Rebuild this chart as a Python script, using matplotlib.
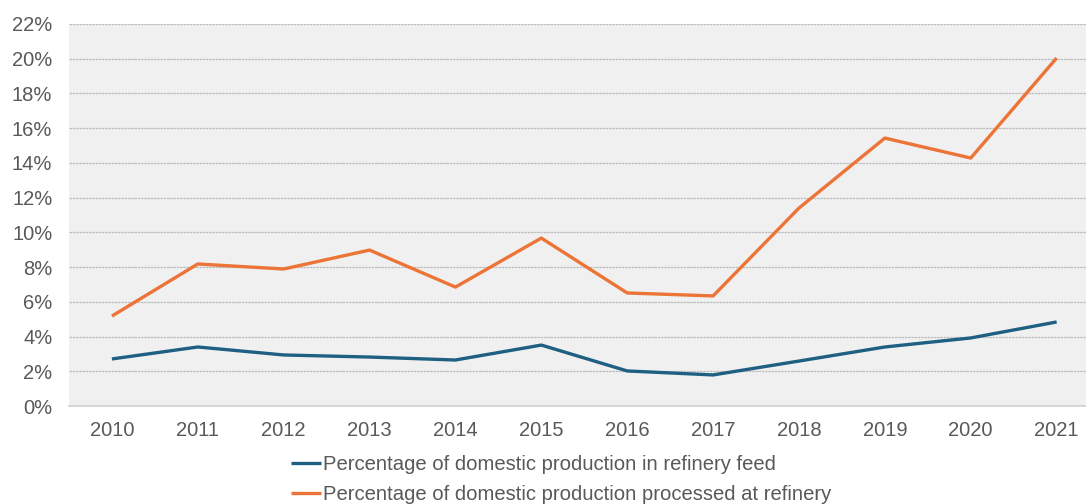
import matplotlib.pyplot as plt
from matplotlib.ticker import PercentFormatter

plt.rcParams['font.family'] = ['Liberation Sans', 'DejaVu Sans']

years = ['2010', '2011', '2012', '2013', '2014', '2015',
         '2016', '2017', '2018', '2019', '2020', '2021']
share_in_feed = [2.71, 3.40, 2.94, 2.82, 2.65, 3.51, 2.02, 1.79, 2.59, 3.40, 3.92, 4.84]
share_processed = [5.18, 8.18, 7.89, 8.98, 6.85, 9.67, 6.51, 6.34, 11.40, 15.43, 14.28, 20.04]

label_feed = 'Percentage of domestic production in refinery feed'
label_processed = 'Percentage of domestic production processed at refinery'

fig = plt.figure(figsize=(10.86, 5.04), dpi=100)
ax = fig.add_axes([0.0635, 0.1944, 0.949, 0.758])
ax.set_facecolor('#f0f0f0')

x = range(len(years))
ax.plot(x, share_in_feed, color='#1f5f82', lw=2.4, label=label_feed, solid_capstyle='butt')
ax.plot(x, share_processed, color='#ec7436', lw=2.4, label=label_processed, solid_capstyle='butt')

ax.set_xlim(-0.5, len(years) - 0.5)
ax.set_ylim(0, 22)
ax.set_yticks(range(0, 23, 2))
ax.yaxis.set_major_formatter(PercentFormatter(decimals=0))
ax.set_xticks(list(x))
ax.set_xticklabels(years)

ax.grid(axis='y', color='#bdbdbd', lw=0.9, linestyle=(0, (2, 0.6)))
ax.set_axisbelow(True)
for side in ['top', 'right', 'left']:
    ax.spines[side].set_visible(False)
ax.spines['bottom'].set_color('#d0d0d0')
ax.spines['bottom'].set_linewidth(1.2)

ax.tick_params(axis='both', length=0, labelsize=14.5, labelcolor='#595959')
ax.tick_params(axis='y', pad=12)
ax.tick_params(axis='x', pad=11)

fig.legend(loc='upper left', bbox_to_anchor=(0.268, 0.097), frameon=False,
           fontsize=14.6, handlelength=1.5, handletextpad=0.1, labelspacing=0.55,
           borderpad=0, borderaxespad=0, labelcolor='#595959')

fig.savefig('out.png', dpi=100)
